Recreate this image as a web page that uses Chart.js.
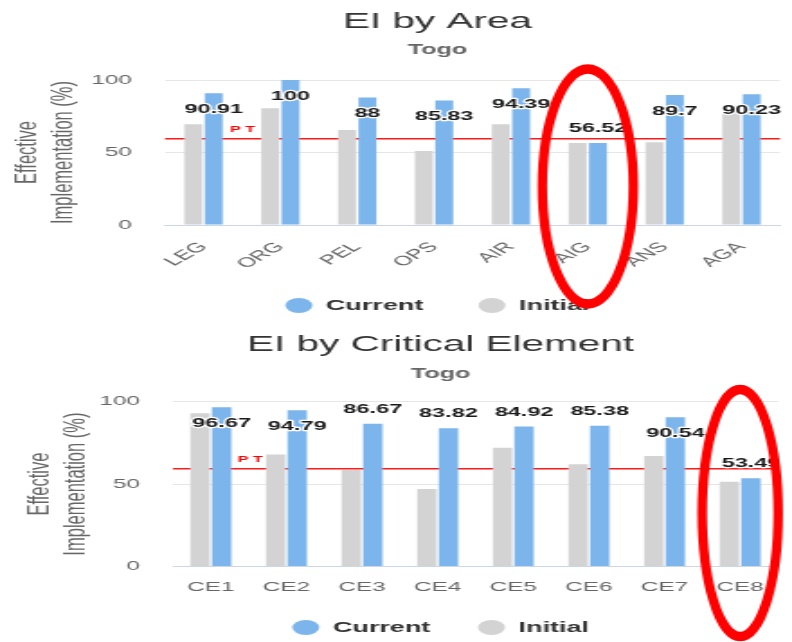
<!DOCTYPE html>
<html>
<head>
<meta charset="utf-8">
<script src="https://cdn.jsdelivr.net/npm/chart.js@4/dist/chart.umd.min.js"></script>
<style>
  html, body { margin: 0; padding: 0; background: #fff; width: 792px; height: 642px; overflow: hidden; position: relative; }
  .wrap { position: absolute; left: 0; transform-origin: 0 0; }
  canvas { display: block; }
</style>
</head>
<body>
<div class="wrap" id="areaWrap" style="top:0px"><canvas id="areaChart"></canvas></div>
<div class="wrap" id="ceWrap" style="top:320px"><canvas id="ceChart"></canvas></div>
<script>
// data
const areaLabels = ['LEG', 'ORG', 'PEL', 'OPS', 'AIR', 'AIG', 'ANS', 'AGA'];
const areaCurrent = [90.91, 100, 88, 85.83, 94.39, 56.52, 89.7, 90.23];
const areaInitial = [69.5, 80.5, 65.5, 51, 69.5, 56.5, 57, 78];

const ceLabels = ['CE1', 'CE2', 'CE3', 'CE4', 'CE5', 'CE6', 'CE7', 'CE8'];
const ceCurrent = [96.67, 94.79, 86.67, 83.82, 84.92, 85.38, 90.54, 53.49];
const ceInitial = [93, 68, 58.5, 47, 72, 62, 67, 51.5];

const yTicks = [0, 50, 100];
const targetPT = 60;
const areaHighlight = 'AIG';
const ceHighlight = 'CE8';

const S = 1.8; // the reference is stretched sideways
const BLUE = '#7cb5ec';
const GRAY = '#d3d3d3';
const FONT = "'Liberation Sans', Arial, Helvetica, sans-serif";
Chart.defaults.font.family = FONT;

const overlay = {
  id: 'overlay',
  beforeDatasetsDraw(chart) {
    const {ctx, chartArea: a} = chart;
    const py = Math.round(chart.scales.y.getPixelForValue(targetPT)) + 0.75;
    ctx.save();
    ctx.strokeStyle = '#ff1a1a';
    ctx.lineWidth = 1.5;
    ctx.beginPath();
    ctx.moveTo(a.left, py);
    ctx.lineTo(a.right, py);
    ctx.stroke();
    ctx.fillStyle = '#ff0000';
    ctx.font = 'bold 9px ' + FONT;
    ctx.textBaseline = 'middle';
    ctx.fillText('P T', a.left + 36, py - 9.5);
    ctx.restore();
  },
  afterDatasetsDraw(chart) {
    // value labels on the Current bars, pushed inside when there is no room above
    const {ctx, chartArea: a} = chart;
    const meta = chart.getDatasetMeta(1);
    const vals = chart.data.datasets[1].data;
    ctx.save();
    ctx.font = 'bold 13px ' + FONT;
    ctx.textAlign = 'center';
    ctx.textBaseline = 'middle';
    ctx.lineJoin = 'round';
    meta.data.forEach((bar, i) => {
      let y = bar.y - 14.5;
      if (bar.y - a.top < 21.2) y = bar.y + 16;
      const t = String(vals[i]);
      ctx.strokeStyle = '#fff';
      ctx.lineWidth = 2.5;
      ctx.strokeText(t, bar.x, y);
      ctx.fillStyle = '#1a1a1a';
      ctx.fillText(t, bar.x, y);
    });
    ctx.restore();
  },
  afterDraw(chart, args, opts) {
    // hand-drawn red ring round the highlighted category
    const {ctx} = chart;
    const idx = chart.data.labels.indexOf(opts.highlight);
    const cx = chart.scales.x.getPixelForValue(idx) * S;
    ctx.save();
    ctx.scale(1 / S, 1);
    ctx.strokeStyle = '#ff0000';
    ctx.lineWidth = 9.5;
    ctx.beginPath();
    ctx.ellipse(cx, opts.cy, opts.rx, opts.ry, 0, 0, Math.PI * 2);
    ctx.stroke();
    ctx.restore();
  }
};

function makeChart(id, spec) {
  const canvas = document.getElementById(id);
  canvas.width = spec.w;
  canvas.height = spec.h;
  canvas.style.width = spec.w + 'px';
  canvas.style.height = spec.h + 'px';
  canvas.parentNode.style.transform = 'scale(' + S + ',1)';

  return new Chart(canvas, {
    type: 'bar',
    data: {
      labels: spec.labels,
      datasets: [
        { label: 'Initial', data: spec.initial, backgroundColor: GRAY },
        { label: 'Current', data: spec.current, backgroundColor: BLUE }
      ]
    },
    options: {
      responsive: false,
      animation: false,
      devicePixelRatio: 1,
      datasets: { bar: { categoryPercentage: spec.catPct, barPercentage: spec.barPct } },
      layout: { padding: { left: spec.padL, right: 0, top: 0, bottom: 0 } },
      plugins: {
        title: {
          display: true, text: spec.title, color: '#333',
          font: { size: 22.5, weight: 'normal' },
          padding: { top: spec.titleTop, bottom: 0 }
        },
        subtitle: {
          display: true, text: 'Togo', color: '#666',
          font: { size: 14, weight: 'bold' },
          padding: { top: spec.subTop, bottom: spec.subBottom }
        },
        legend: {
          position: 'bottom',
          reverse: true,
          labels: {
            usePointStyle: true, pointStyle: 'circle', pointStyleWidth: 15,
            boxWidth: 15, boxHeight: 10.6, padding: spec.legPad,
            color: '#333', font: { size: 15, weight: 'bold' }
          }
        },
        tooltip: { enabled: false },
        overlay: { highlight: spec.highlight, cy: spec.cy, rx: spec.rx, ry: spec.ry }
      },
      scales: {
        x: {
          grid: { display: false, drawTicks: spec.xTicks },
          border: { display: true, color: '#ccd6eb' },
          ticks: {
            color: '#666', font: { size: 13.5 }, padding: spec.xPad,
            minRotation: spec.rot, maxRotation: spec.rot, autoSkip: false
          },
          afterFit: s => { s.height = spec.xHeight; }
        },
        y: {
          min: 0, max: 100,
          afterBuildTicks: s => { s.ticks = yTicks.map(v => ({ value: v })); },
          ticks: { color: '#666', font: { size: 13.5 }, padding: 18.4 },
          grid: {
            drawTicks: false,
            color: c => (c.tick && c.tick.value === 0) ? 'rgba(0,0,0,0)' : '#e6e6e6'
          },
          border: { display: false },
          title: {
            display: true, text: ['Effective', 'Implementation (%)'], color: '#666',
            font: { size: 16.5 }, padding: { top: 0, bottom: 0 }
          },
          afterFit: s => { s.width = spec.yWidth; }
        },
        yr: {
          position: 'right',
          grid: { display: false },
          border: { display: false },
          ticks: { display: false },
          afterFit: s => { s.width = spec.rightW; }
        }
      }
    },
    plugins: [overlay]
  });
}

makeChart('areaChart', {
  labels: areaLabels, current: areaCurrent, initial: areaInitial,
  title: 'EI by Area', highlight: areaHighlight,
  w: 480, h: 323, padL: 6, yWidth: 85.7, rightW: 46.7,
  titleTop: 8, subTop: 7, subBottom: 21.2,
  xHeight: 42.4, xPad: 6, xTicks: true, rot: 45, legPad: 30.6,
  catPct: 0.53, barPct: 0.88,
  cy: 186.5, rx: 45.5, ry: 117.5
});

makeChart('ceChart', {
  labels: ceLabels, current: ceCurrent, initial: ceInitial,
  title: 'EI by Critical Element', highlight: ceHighlight,
  w: 477, h: 325, padL: 12.6, yWidth: 83.5, rightW: 44.8,
  titleTop: 11.5, subTop: 7.1, subBottom: 19.3,
  xHeight: 27, xPad: 12.9, xTicks: false, rot: 0, legPad: 26.5,
  catPct: 0.57, barPct: 0.9,
  cy: 193, rx: 38, ry: 123.5
});
</script>
</body>
</html>
